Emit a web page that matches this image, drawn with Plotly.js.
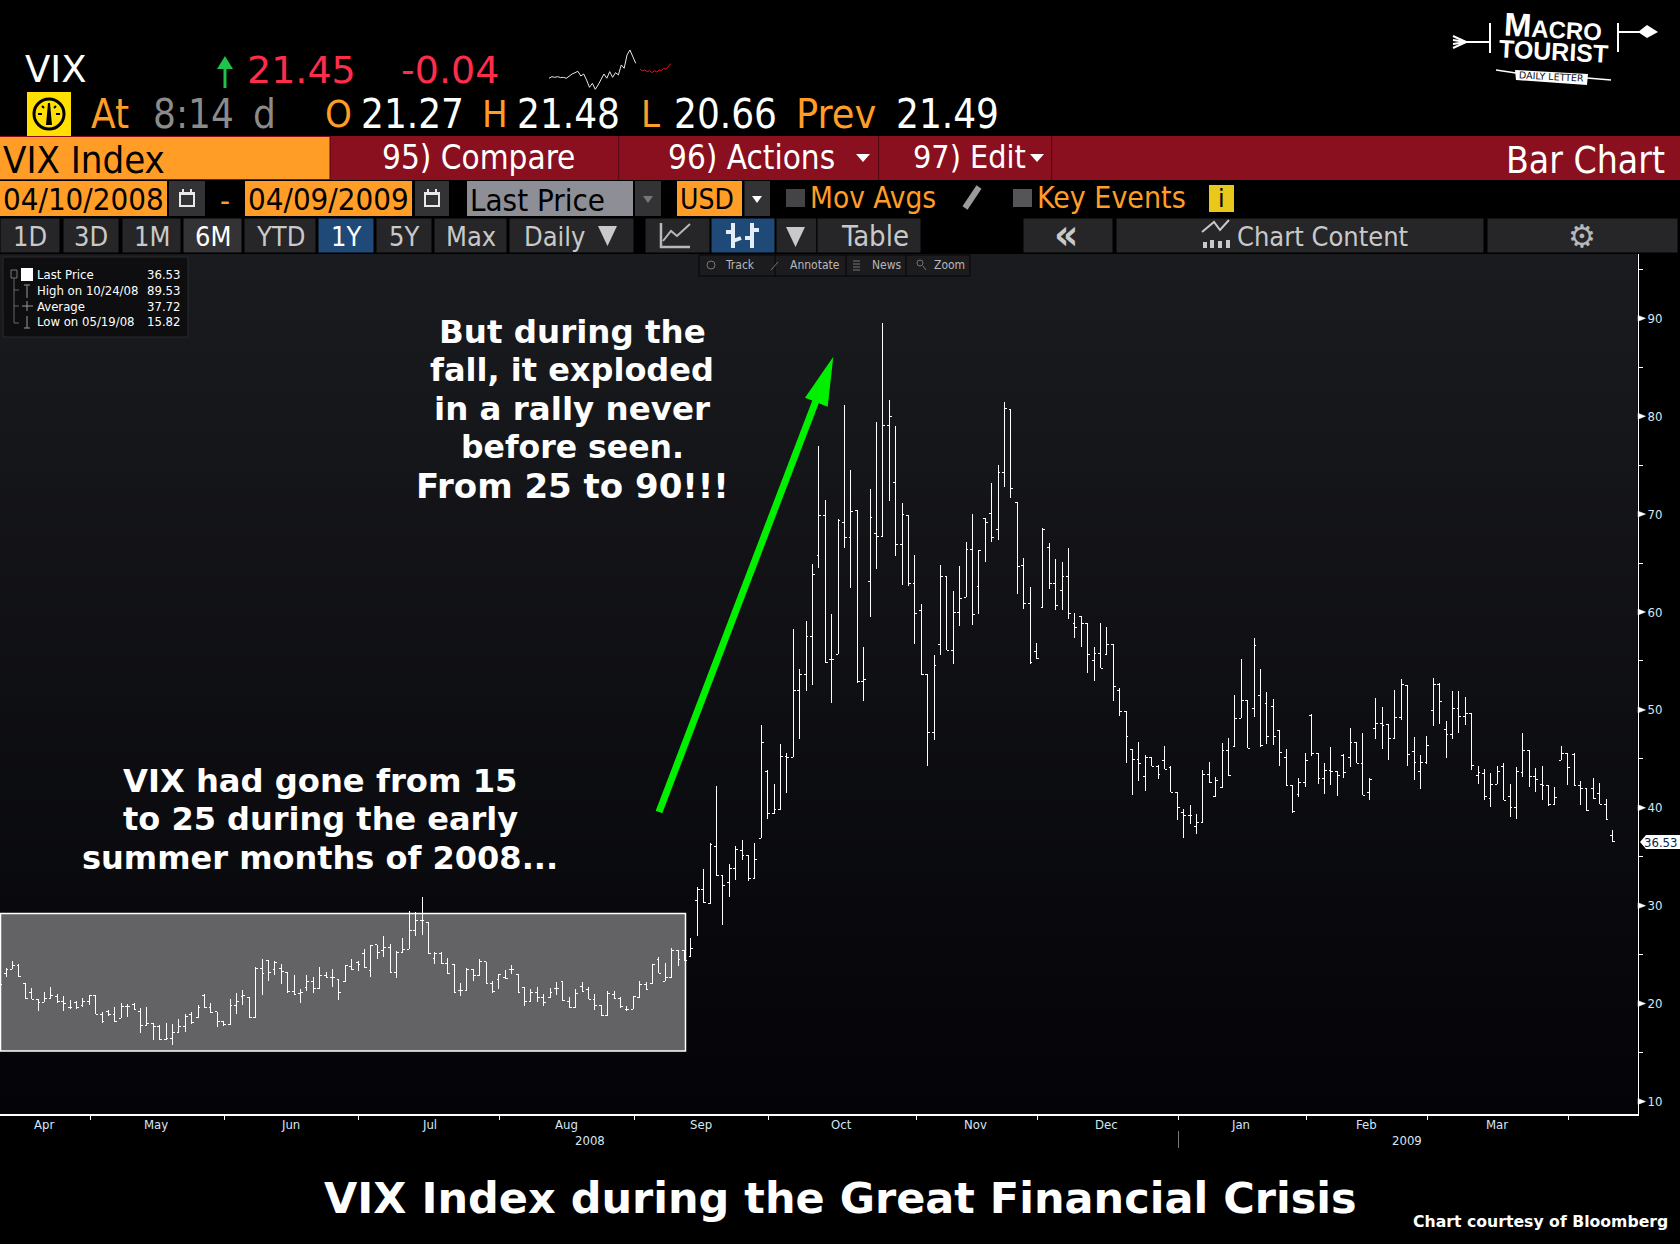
<!DOCTYPE html>
<html><head><meta charset="utf-8">
<script src="https://cdn.plot.ly/plotly-3.0.1.min.js"></script>
<style>html,body{margin:0;padding:0;background:#000}#chart{width:1680px;height:1244px}
#chart .ohlc path{shape-rendering:crispEdges}</style>
</head><body><div id="chart"></div>
<script>
// ---------- DATA (VIX daily bars, 10 Apr 2008 - 9 Apr 2009) ----------
const opens=[21.73,23.09,23.5,23.84,22.07,21.15,20.43,20.13,20.47,20.77,20.23,19.61,20.13,19.85,20.19,20.84,18.9,19.24,18.9,18.49,19.75,19.95,19.17,17.81,17.98,17.71,16.31,16.45,17.06,17.64,18.9,18.56,20.87,19.61,19.17,18.22,17.84,19.85,20.7,20.64,18.59,23.6,24.42,23.5,23.6,23.16,21.25,20.98,21.66,22.3,21.56,22.88,22.68,22.47,22.24,23.77,24.18,25.13,23.39,26.02,25.4,25.74,23.19,25.23,25.54,27.48,28.5,28.26,24.59,25.13,24.11,24.04,21.32,21.32,23.5,22.85,24.25,22.03,22.41,22.64,23.5,22.99,21.66,20.23,21.15,20.64,20.6,21.52,22.27,20.23,19.61,21.73,21.45,20.43,19.85,18.8,20.91,20.57,19.41,19.41,20.6,21.96,22.07,24.52,22.27,22.64,25.44,25.44,
24.79,30.54,31.67,30.2,36.03,33.1,32.35,33.81,35.65,35.14,32.76,36.88,43.72,39.43,39.84,45.25,45.15,52.0,
53.6,57.52,65.79,69.87,55.1,55.68,69.16,67.63,70.39,52.92,63.13,68.04,67.73,79.07,73.25,66.91,69.81,62.93,60.17,53.63,47.71,56.7,63.64,56.09,59.97,61.5,66.4,62.62,69.57,70.08,68.44,74.27,80.7,71.2,64.73,60.89,55.98,60.48,66.61,62.93,
62.22,63.65,58.84,59.49,58.84,55.06,55.78,55.68,56.7,51.97,49.86,45.97,44.95,43.22,45.09,44.24,44.88,44.1,41.58,39.54,39.23,38.14,38.52,43.42,41.17,42.09,45.87,46.28,49.14,50.98,50.16,51.52,50.67,50.37,47.91,45.16,42.3,41.34,42.6,49.45,45.56,43.01,43.83,43.73,45.39,
45.16,46.69,44.54,41.58,48.12,48.63,48.53,47.1,49.24,52.51,45.77,43.73,44.65,49.96,52.61,48.02,47.51,50.16,49.35,49.65,43.32,43.52,41.0,42.4,44.24,41.17,40.08,43.63,45.87,43.22,42.4,42.3,40.36,44.85,45.57,45.46,42.3,41.99,41.99,41.48,40.36,37.19];
const highs=[22.41,23.6,24.35,24.0,22.07,21.59,20.43,21.18,21.69,20.98,20.77,20.36,20.23,20.53,20.84,20.84,19.14,19.34,19.65,20.02,19.92,20.02,19.58,19.65,17.98,17.84,18.01,17.91,18.39,18.9,19.1,19.82,20.94,20.02,19.17,18.22,20.43,21.08,21.39,20.64,23.77,24.52,24.42,24.31,24.0,23.16,22.92,21.49,22.92,22.68,23.7,23.26,23.5,22.47,23.97,24.52,24.31,25.54,25.95,26.02,26.9,26.05,25.4,26.7,29.45,29.32,30.88,28.3,25.27,25.27,24.62,24.07,22.07,23.6,23.5,24.52,24.25,22.27,23.02,23.43,23.9,22.99,21.66,21.49,21.66,20.94,21.59,22.2,22.27,20.64,21.49,22.17,21.69,21.01,19.85,21.28,21.25,20.64,19.78,20.74,22.3,22.24,24.07,24.72,24.14,25.64,25.44,25.44,
26.7,31.91,33.75,36.37,42.22,33.1,34.25,36.09,36.71,35.14,36.4,48.45,43.86,42.43,46.51,45.59,58.26,54.17,
59.05,64.87,76.96,71.44,59.8,69.47,81.15,74.51,70.39,56.43,72.57,79.41,89.53,81.66,79.0,71.13,69.81,65.82,60.82,53.63,55.61,64.8,63.64,62.15,64.7,67.15,70.01,66.33,69.57,73.18,75.02,81.42,80.7,71.27,65.52,62.55,56.83,68.55,67.05,65.42,
65.11,66.54,59.9,59.59,58.84,56.43,58.88,58.47,56.73,52.2,49.86,46.01,46.72,45.4,45.09,44.34,46.31,44.24,41.58,39.88,40.29,39.37,43.83,44.68,43.15,46.62,47.13,51.52,55.2,50.98,57.35,54.18,51.83,51.12,47.91,46.01,42.3,43.05,45.6,49.55,45.56,44.58,46.21,43.73,45.5,
48.12,46.69,47.64,43.05,51.22,50.3,48.53,52.04,53.16,52.51,47.23,45.4,47.34,53.26,52.72,48.87,51.9,51.9,51.32,49.65,44.27,43.97,43.56,44.27,44.58,42.43,44.17,47.64,45.87,44.07,44.27,42.3,42.13,46.32,45.57,45.57,42.74,41.99,43.05,42.54,40.9,37.73];
const lows=[21.56,22.75,23.5,22.75,20.53,20.43,19.27,20.13,20.43,20.02,19.27,19.41,19.48,19.68,19.85,18.9,18.05,18.73,18.15,18.49,18.63,19.41,17.03,17.81,16.31,16.31,16.31,15.82,17.06,17.13,17.95,18.49,19.51,19.07,17.64,17.67,17.84,18.97,19.85,18.59,18.59,20.91,22.34,22.95,22.03,21.11,20.84,20.09,21.32,21.11,21.56,22.68,21.73,20.36,22.24,23.39,23.33,23.67,22.75,24.52,24.79,23.09,22.64,25.13,25.54,26.9,27.04,25.06,24.07,24.07,23.05,21.11,20.77,21.32,22.34,22.85,22.03,21.11,21.45,22.47,23.02,21.11,19.75,20.19,20.16,19.75,20.53,20.87,20.23,19.58,19.58,21.21,20.43,19.34,18.8,18.8,20.5,19.58,19.27,19.41,20.53,21.42,22.07,23.09,22.27,22.64,23.87,24.38,
24.79,26.9,30.31,30.2,33.06,28.02,30.88,32.62,34.66,32.55,32.76,36.88,38.85,39.4,39.81,41.51,45.15,47.06,
51.97,52.58,64.53,54.76,50.74,55.68,66.57,62.49,52.78,50.94,59.52,64.43,67.73,71.37,65.72,62.76,62.69,56.77,53.63,44.3,46.96,55.64,56.09,54.72,58.6,61.5,58.71,59.83,65.14,67.18,67.39,72.8,71.68,61.87,60.34,54.72,55.23,60.48,62.38,60.24,
60.24,59.32,57.38,56.46,53.8,52.99,54.25,55.68,50.94,49.41,44.61,41.34,42.77,41.75,44.24,42.98,43.93,41.58,38.79,36.95,38.38,37.36,38.52,42.6,41.17,41.99,43.28,46.28,49.14,46.08,49.31,46.25,46.55,46.45,44.31,42.3,39.5,41.14,42.16,45.33,42.47,41.44,42.36,41.24,43.08,
44.2,44.54,41.28,40.83,47.06,46.04,44.92,47.1,49.0,44.31,42.84,41.96,44.48,48.39,48.6,45.12,47.06,47.68,48.49,43.9,42.47,40.83,40.12,42.4,40.76,39.1,38.89,43.18,42.16,41.65,40.83,40.22,40.36,44.85,42.37,42.3,40.32,39.71,40.93,40.36,38.82,36.53];
const closes=[21.96,23.5,23.84,22.75,20.53,20.43,20.13,20.53,20.84,20.23,20.02,19.61,19.61,20.19,20.84,18.9,18.15,18.9,18.15,19.75,19.75,19.41,17.78,17.95,17.71,16.31,16.45,17.06,17.64,18.63,18.05,19.61,19.61,19.07,18.22,17.84,19.85,20.26,20.84,18.59,23.6,23.09,23.19,24.18,23.29,21.25,20.91,21.18,22.3,21.56,22.88,22.68,22.68,21.15,23.87,23.46,23.97,23.67,25.95,25.26,25.74,23.19,25.23,25.57,27.48,28.5,28.5,25.13,25.13,24.11,23.05,21.11,21.32,23.5,22.85,24.25,22.03,21.21,22.99,22.54,23.5,21.11,20.23,21.11,20.64,20.13,21.15,21.52,20.36,19.61,20.98,21.21,20.43,19.85,18.8,20.98,20.57,19.75,19.41,20.7,21.96,21.45,24.0,23.09,22.64,25.44,24.52,24.42,
25.64,31.67,30.31,36.23,33.06,32.04,33.81,35.75,35.11,32.79,34.73,46.68,39.43,39.84,45.25,45.15,52.0,53.63,
57.52,63.81,69.87,54.89,55.17,69.3,67.63,70.28,52.92,53.12,69.67,67.7,79.07,79.99,66.91,69.98,62.93,59.86,53.63,47.71,54.55,63.64,56.09,59.97,61.4,66.4,59.76,66.33,69.16,67.63,74.27,80.8,72.63,64.67,60.89,54.86,55.27,68.44,62.93,60.68,
63.65,59.87,58.44,58.84,55.68,55.78,54.25,56.7,52.41,49.86,47.3,44.95,44.54,45.09,44.24,43.42,43.93,41.58,40.08,39.23,39.2,38.52,43.42,42.6,42.81,45.87,43.28,49.14,50.98,46.08,56.6,46.35,47.3,47.3,45.67,42.3,39.64,42.6,44.88,45.53,43.01,43.83,43.73,43.32,43.62,
46.69,44.54,41.28,42.91,48.63,48.43,47.1,49.24,52.61,45.46,44.65,44.65,46.38,52.61,50.88,47.51,50.16,49.35,49.65,44.34,43.59,41.17,42.4,43.73,40.76,40.08,43.73,45.87,43.22,42.91,42.3,40.36,41.07,45.57,44.14,42.3,41.99,39.74,40.97,40.36,38.82,36.53];
const barIndex=opens.map((_,i)=>i);
const yTickVals=[10,20,30,40,50,60,70,80,90];
const yMinorVals=[15,25,35,45,55,65,75,85,95];
const monthBreaks=[14.2,35.1,56.1,78.1,99.2,120.2,143.2,162.1,184.2,204.2,223.1,245.1];
const monthNames=['Apr','May','Jun','Jul','Aug','Sep','Oct','Nov','Dec','Jan','Feb','Mar'];
const monthMid=[6.9,24.4,45.5,67.1,88.5,109.6,131.6,152.5,173,193.9,213.6,233.9];
const sparkPrior=[20.88,21,20.95,21,20.93,20.95,20.88,21.05,21.2,21.3,21.4,21.05,21.2,20.75,20.2,20.5,20.05,20.38,20.75,21.2,20.88,21.38,20.95,21.3,21.13,21.88,21.63,22.63,23,22.5,22];
const sparkToday=[21.55,21.45,21.5,21.38,21.45,21.3,21.45,21.35,21.5,21.45,21.63,21.55,21.8,22];
const sparkPriorX=sparkPrior.map((_,i)=>i);
const sparkTodayX=[31.5,32.3,33.1,34,34.8,35.6,36.4,37.3,38.1,38.9,39.7,40.5,41.4,42.2];

// ---------- helpers (page pixels to paper fractions) ----------
const W=1680,H=1244;
const px=x=>x/W, py=y=>1-y/H;
const FONT='"DejaVu Sans Condensed","DejaVu Sans",sans-serif';
const BOLD='"DejaVu Sans",sans-serif';
const shapes=[],annotations=[];
function rect(x0,y0,x1,y1,fill,line,layer,lw){shapes.push({type:'rect',xref:'paper',yref:'paper',x0:px(x0),x1:px(x1),y0:py(y0),y1:py(y1),fillcolor:fill,line:{color:line||fill,width:line?(lw||1):0},layer:layer||'below'});}
function seg(x0,y0,x1,y1,color,w,layer){shapes.push({type:'line',xref:'paper',yref:'paper',x0:px(x0),x1:px(x1),y0:py(y0),y1:py(y1),line:{color:color,width:w||1},layer:layer||'above'});}
function poly(pts,fill,closed,w){const d=pts.map((p,i)=>(i?'L':'M')+px(p[0]).toFixed(5)+','+py(p[1]).toFixed(5)).join(' ')+(closed===false?'':' Z');
 shapes.push({type:'path',xref:'paper',yref:'paper',path:d,fillcolor:closed===false?'rgba(0,0,0,0)':fill,line:{color:fill,width:closed===false?(w||1):0},layer:'above'});}
function circ(cx,cy,r,fill,line,w){shapes.push({type:'circle',xref:'paper',yref:'paper',x0:px(cx-r),x1:px(cx+r),y0:py(cy-r),y1:py(cy+r),fillcolor:fill,line:{color:line||fill,width:w||0},layer:'above'});}
function txt(x,y,t,size,color,o){o=o||{};annotations.push({xref:o.xref||'paper',yref:'paper',x:o.xref?x:px(x),y:py(y),text:t,showarrow:false,xanchor:o.a||'left',yanchor:'middle',borderpad:0,textangle:o.rot||0,font:{family:o.f||FONT,size:size,color:color}});}

// ---------- background ----------
rect(0,0,W,H,'#000');
const bands=43;
for(let i=0;i<bands;i++){const t=i/(bands-1);const c=[26-22*t,27-23*t,30-22*t].map(Math.round);
 rect(0,254+i*20,1637.5,Math.min(254+(i+1)*20,1114.3),`rgb(${c})`);}
// highlighted early-summer box
rect(0.5,913.5,685.5,1051,'#636366','#ffffff','below',1.5);

// ---------- header rows ----------
const ORANGE='#ff9d27',RED='#8a1020',WH='#ffffff',BTN='#262628',BT='#c9c9c9';
txt(24,70,'VIX',37,WH,{f:BOLD});
seg(225,60,225,88,'#1fc24a',3);poly([[217,69],[225,56],[233,69]],'#1fc24a');
txt(246,70,'21.45',38,'#ff2d4a',{f:BOLD});
txt(400,70,'-0.04',38,'#ff2d4a',{f:BOLD});
rect(27,92,71,136,'#ffe000');
circ(49,114,15,'rgba(0,0,0,0)','#000',3);poly([[46,125],[48,103],[50,103],[52,125]],'#000');seg(38,114,42,114,'#000',2);seg(56,114,60,114,'#000',2);seg(42,106,44,108,'#000',2);seg(56,106,54,108,'#000',2);
txt(90,114,'At',40,ORANGE);txt(152,114,'8:14',40,'#8b8b8b');txt(252,114,'d',40,'#8b8b8b');
txt(324,114,'O',38,ORANGE);txt(360,114,'21.27',40,WH);txt(481,114,'H',38,ORANGE);txt(516,114,'21.48',40,WH);
txt(640,114,'L',38,ORANGE);txt(673,114,'20.66',40,WH);txt(795,114,'Prev',41,ORANGE);txt(895,114,'21.49',40,WH);

rect(0,136,W,180,RED);rect(0,137,330,179,ORANGE);
seg(618.7,136,618.7,180,'#4c0a12',1);seg(878.6,136,878.6,180,'#4c0a12',1);seg(1051.6,136,1051.6,180,'#4c0a12',1);seg(330,136,330,180,'#4c0a12',1);
txt(2,160,'VIX Index',38,'#000');txt(381,157,'95) Compare',33,WH);txt(667,157,'96) Actions',33,WH);txt(912,157,'97) Edit',32,WH);
txt(1666,160,'Bar Chart',37,WH,{a:'right'});
poly([[856,154],[870,154],[863,162]],WH);poly([[1030,154],[1044,154],[1037,162]],WH);

rect(0,181,167,216,ORANGE);rect(245,181,412,216,ORANGE);
txt(2,199,'04/10/2008',31,'#000');txt(247,199,'04/09/2009',31,'#000');
rect(169,181,205,216,'#333336');rect(415,181,449,216,'#333336');
for(const cx of [187,432]){rect(cx-8,192,cx+8,207,'#e8e8e8');rect(cx-6,195,cx+6,205,'#333336');seg(cx-4,189,cx-4,194,'#e8e8e8',2);seg(cx+4,189,cx+4,194,'#e8e8e8',2);}
txt(225,200,'-',31,ORANGE,{a:'center'});
rect(467,181,633,216,'#8e8e96');txt(469,200,'Last Price',31,'#000');
rect(635,181,661,216,'#333336');poly([[643,196],[653,196],[648,203]],'#777');
rect(677,181,742,216,ORANGE);txt(679,199,'USD',28,'#000');
rect(744.5,181,770,216,'#333336');poly([[752,196],[762,196],[757,203]],WH);
rect(786,189,805,207,'#444446');txt(809,198,'Mov Avgs',29.5,ORANGE);
seg(979,187,965,208,'#9a9a9a',6);
rect(1013,189,1032,207,'#555557');txt(1036,198,'Key Events',30,ORANGE);
rect(1209,185,1234,212,'#e8c81a');txt(1221.5,199,'i',24,'#000',{a:'center',f:BOLD});

const buttons=[[0,60,'1D'],[63,119,'3D'],[122,181,'1M'],[183,242,'6M'],[244,316,'YTD'],[318,374,'1Y'],[376,432,'5Y'],[434,507,'Max'],[509,634,'Daily'],[645,710,''],[711,775,''],[776,817,''],[817,921,'Table'],[1023,1113,''],[1116,1484,''],[1487,1678,'']];
buttons.forEach(b=>{const blue=b[2]==='1Y'||b[0]===711,hi=b[2]==='6M';
 rect(b[0],218,b[1],253,blue?'#1f4a78':(hi?'#333335':BTN),'#000');
 if(b[2]){const tb=b[2]==='Table';txt(b[2]==='Daily'?523:(tb?874.5:(b[0]+b[1])/2),236,b[2],tb?29:27,(blue||hi)?WH:BT,{a:b[2]==='Daily'?'left':'center'});}});
poly([[598,226],[617,226],[607.5,246]],'#c9c9c9');poly([[786,227],[805,227],[795.5,247]],'#c9c9c9');
poly([[661,223],[661,247],[690,247]],'#b9b9b9',false,2.5);poly([[663,241],[671,231],[677,236],[690,224]],'#b9b9b9',false,2);
seg(733,223,733,248,'#e4eef8',4);seg(752,223,752,248,'#e4eef8',4);seg(726,232,733,232,'#e4eef8',4);seg(733,241,741,238,'#e4eef8',4);seg(745,238,752,238,'#e4eef8',4);seg(752,230,759,230,'#e4eef8',4);
txt(1066,234,'<b>«</b>',42,'#c9c9c9',{a:'center'});
txt(1236,236,'Chart Content',27,BT);
poly([[1202,232],[1214,222],[1220,230],[1229,220]],'#c9c9c9',false,2);
[[1203,242],[1210,240],[1218,241],[1226,240]].forEach(p=>rect(p[0],p[1],p[0]+4,248,'#c9c9c9'));
txt(1582,236,'⚙',31,'#b8b8b8',{a:'center',f:'"DejaVu Sans"'});

// small chart toolbar
rect(699,255,970,276,'#1c1c1f','#050505','above');
[775,846,906].forEach(x=>seg(x,255,x,276,'#050505',1));
txt(724,265,'Track',12,'#b8b8b8');txt(789,265,'Annotate',12,'#b8b8b8');txt(871,265,'News',12,'#b8b8b8');txt(933,265,'Zoom',12,'#b8b8b8');
circ(711,265,4,'rgba(0,0,0,0)','#777',1);seg(771,270,778,262,'#777',1);
[261,264,267,270].forEach(y=>seg(853,y,860,y,'#777',1));circ(920,263,3,'rgba(0,0,0,0)','#777',1);seg(923,266,926,270,'#777',1);

// legend box
rect(3,257,188,337,'#0e0e10','#2a2a2c','above');
const legend=[['Last Price','36.53',274],['High on 10/24/08','89.53',290],['Average','37.72',306],['Low on 05/19/08','15.82',322]];
legend.forEach(r=>{txt(36,r[2],r[0],13,WH);txt(181,r[2],r[1],13,WH,{a:'right'});});
rect(21,268,33,281,WH,null,'above');rect(11,270,17,278,'#111','#777','above');
seg(14,278,14,323,'#666',1);seg(14,290,19,290,'#666',1);seg(14,306,19,306,'#666',1);seg(14,323,19,323,'#666',1);
seg(27,285,27,298,'#999',1);seg(24,285,30,285,'#999',1);seg(27,301,27,311,'#999',1);seg(22,306,33,306,'#999',1);seg(27,316,27,328,'#999',1);seg(24,328,30,328,'#999',1);

// logo
txt(1553,26,'<b><span style="font-size:33px">M</span>ACRO</b>',24,WH,{a:'center',f:'"Liberation Sans",sans-serif',rot:3});
txt(1553,51,'<b>TOURIST</b>',25,WH,{a:'center',f:'"Liberation Sans",sans-serif',rot:3});
poly([[1515,70],[1588,74],[1587,85],[1516,80]],WH);
txt(1551,76,'DAILY LETTER',9.5,'#111',{a:'center',f:BOLD,rot:3});
seg(1496,70,1516,73,WH,1.5);seg(1587,78,1611,80,WH,1.5);
seg(1460,42,1490,42,WH,2);seg(1490,23,1490,53,WH,2);
[[1453,36,1466,42],[1453,40,1466,42],[1453,44,1466,42],[1453,48,1466,42]].forEach(s=>seg(s[0],s[1],s[2],s[3],WH,2));
seg(1618,23,1618,52,WH,2);seg(1618,32,1640,32,WH,2);poly([[1638,32],[1647,25],[1658,32],[1647,38]],WH);

// annotation texts
const tall=[['But during the',332,32.5],['fall, it exploded',370,32],['in a rally never',408.5,32.5],['before seen.',447,31.5],['From 25 to 90!!!',485.5,34]];
tall.forEach(r=>txt(572,r[1],'<b>'+r[0]+'</b>',r[2],WH,{a:'center',f:BOLD}));
const low=[['VIX had gone from 15',780.5,32.2],['to 25 during the early',819,32],['summer months of 2008...',857.5,32]];
low.forEach(r=>txt(320,r[1],'<b>'+r[0]+'</b>',r[2],WH,{a:'center',f:BOLD}));
txt(840,1198,'<b>VIX Index during the Great Financial Crisis</b>',43,WH,{a:'center',f:BOLD});
txt(1669,1221,'<b>Chart courtesy of Bloomberg</b>',15.7,WH,{a:'right',f:BOLD});

// green arrow
seg(659,812,817,398,'#00f000',7);
poly([[833.3,356.7],[805,397.7],[827.7,406.7]],'#00f000');

// axis furniture
monthNames.forEach((m,i)=>txt(monthMid[i],1124.5,m,13,'#d7e6f5',{xref:'x',a:'center'}));
txt(92.2,1140,'2008',13,'#d7e6f5',{xref:'x',a:'center'});
txt(219.9,1140,'2009',13,'#d7e6f5',{xref:'x',a:'center'});
seg(1178.5,1131,1178.5,1148,'#777',1);
poly([[1640,842],[1646,835],[1680,835],[1680,849],[1646,849]],WH);
txt(1678,842,'36.53',13,'#06264a',{a:'right'});
// right-pointing markers beside each labelled price tick
yTickVals.forEach(v=>shapes.push({type:'path',xref:'paper',yref:'y',
  path:`M${px(1638).toFixed(5)},${v-0.3} L${px(1638).toFixed(5)},${v+0.3} L${px(1645.5).toFixed(5)},${v} Z`,
  fillcolor:'#fff',line:{color:'#fff',width:0.5},layer:'above'}));

// ---------- traces ----------
const xR=[0.05,255.9];
const traces=[
 {type:'ohlc',x:barIndex,open:opens,high:highs,low:lows,close:closes,xaxis:'x',yaxis:'y',tickwidth:0.36,
  increasing:{line:{color:'#ffffff',width:1}},decreasing:{line:{color:'#ffffff',width:1}},hoverinfo:'skip',showlegend:false},
 {type:'scatter',mode:'lines',x:sparkPriorX,y:sparkPrior,xaxis:'x2',yaxis:'y2',line:{color:'#e8e8e8',width:1},hoverinfo:'skip',showlegend:false},
 {type:'scatter',mode:'lines',x:sparkTodayX,y:sparkToday,xaxis:'x2',yaxis:'y2',line:{color:'#e0142c',width:1},hoverinfo:'skip',showlegend:false}
];
const layout={width:W,height:H,margin:{l:0,r:0,t:0,b:0,pad:0},paper_bgcolor:'#000',plot_bgcolor:'rgba(0,0,0,0)',showlegend:false,
 xaxis:{type:'linear',domain:[0,1637.5/W],range:xR,rangeslider:{visible:false},showgrid:false,zeroline:false,showline:true,linecolor:'#fff',linewidth:1.5,
  tickmode:'array',tickvals:monthBreaks,ticktext:monthBreaks.map(()=>''),ticks:'outside',ticklen:4,tickcolor:'#fff',tickwidth:1,anchor:'y',fixedrange:true},
 yaxis:{type:'linear',domain:[(H-1114.3)/H,(H-254)/H],range:[8.69,96.57],side:'right',anchor:'x',showgrid:false,zeroline:false,showline:true,linecolor:'#fff',linewidth:1.5,
  tickmode:'array',tickvals:yTickVals,ticktext:yTickVals.map(String),ticks:'outside',ticklen:4,tickcolor:'#fff',ticklabelstandoff:2,
  tickfont:{family:FONT,size:13,color:'#d7e6f5'},minor:{tickmode:'array',tickvals:yMinorVals,ticks:'outside',ticklen:4,tickcolor:'#fff'},fixedrange:true},
 xaxis2:{domain:[549/W,671/W],range:[0,42.2],visible:false,anchor:'y2',fixedrange:true},
 yaxis2:{domain:[(H-90)/H,(H-50)/H],range:[20,23],visible:false,anchor:'x2',fixedrange:true},
 shapes:shapes,annotations:annotations};
Plotly.newPlot('chart',traces,layout,{staticPlot:true,displayModeBar:false});
</script></body></html>
